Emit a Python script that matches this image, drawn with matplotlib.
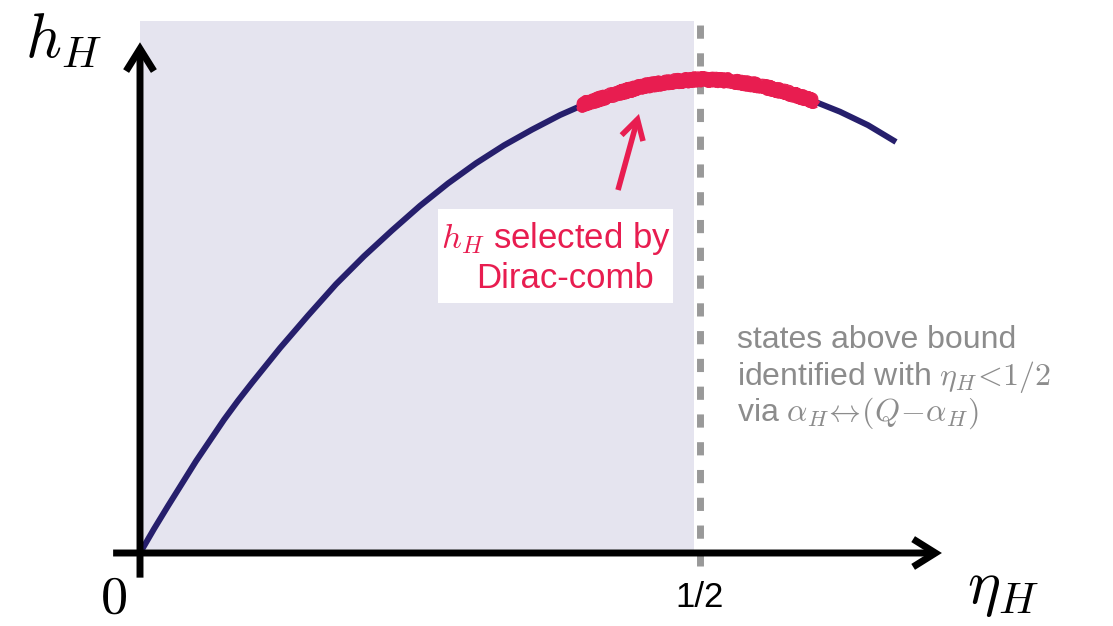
import numpy as np
import matplotlib
matplotlib.use("Agg")
import matplotlib.pyplot as plt
from matplotlib.patches import FancyArrowPatch, Rectangle

plt.rcParams["font.family"] = ["Liberation Sans", "DejaVu Sans"]
plt.rcParams["mathtext.fontset"] = "cm"
plt.rcParams["lines.scale_dashes"] = False

# curve h_H(eta_H)
eta = [0.000, 0.0125, 0.025, 0.0375, 0.050, 0.0625, 0.075, 0.0875, 0.100,
       0.125, 0.150, 0.175, 0.200, 0.225, 0.250, 0.275, 0.300, 0.325, 0.350,
       0.375, 0.400, 0.425, 0.450, 0.475, 0.500, 0.525, 0.550, 0.575, 0.600,
       0.625, 0.650, 0.675]
h = [0.000, 0.0215, 0.042, 0.062, 0.082, 0.1005, 0.119, 0.136, 0.152,
     0.183, 0.212, 0.240, 0.265, 0.288, 0.310, 0.330, 0.348, 0.364, 0.378,
     0.391, 0.402, 0.410, 0.417, 0.421, 0.423, 0.422, 0.418, 0.412, 0.404,
     0.394, 0.382, 0.367]

# part of the curve picked out by the Dirac comb
sel_eta = [0.393, 0.425, 0.450, 0.475, 0.500, 0.525, 0.550, 0.575, 0.603]
sel_h = [0.400, 0.410, 0.417, 0.421, 0.423, 0.422, 0.418, 0.412, 0.403]

bound = 0.5
shade_top = 0.475

navy = "#261f6c"
red = "#e81d50"
grey = "#8c8c8c"

fig = plt.figure(figsize=(11.13, 6.26), dpi=100)
ax = fig.add_axes([0, 0, 1, 1])
ax.set_xlim(-0.125, 0.86875)
ax.set_ylim(-0.06518, 0.49375)
ax.axis("off")

# shaded allowed region
ax.fill_between([0, bound - 0.005], 0, shade_top, color="#e5e4ef", lw=0, zorder=0)

# bound at eta = 1/2
ax.plot([bound, bound], [-0.012, shade_top], color="#999999", lw=5,
        dashes=(9.5, 10.5), solid_capstyle="butt", dash_capstyle="butt", zorder=1)

ax.plot(eta, h, color=navy, lw=4.3, solid_capstyle="butt",
        solid_joinstyle="round", zorder=2)

# rough "chalk" highlight
sel_line, = ax.plot(sel_eta, sel_h, color=red, lw=9, alpha=0.95,
                    solid_capstyle="butt", zorder=3)
sel_line.set_sketch_params(scale=2.0, length=3.0, randomness=3.0)
edge, = ax.plot(sel_eta, sel_h, color=red, lw=7, solid_capstyle="butt", zorder=3)
edge.set_sketch_params(scale=3.5, length=2.0, randomness=2.0)

# axes with arrow heads
ax_style = "->,head_length=1.6,head_width=1.0"
ax.add_patch(FancyArrowPatch((-0.024, 0), (0.716, 0), arrowstyle=ax_style,
                             mutation_scale=10, lw=5, color="black",
                             shrinkA=0, shrinkB=0, joinstyle="miter",
                             capstyle="butt", zorder=5))
ax.add_patch(FancyArrowPatch((0, -0.022), (0, 0.456), arrowstyle=ax_style,
                             mutation_scale=10, lw=5, color="black",
                             shrinkA=0, shrinkB=0, joinstyle="miter",
                             capstyle="butt", zorder=5))

ax.text(-0.1027, 0.4429, r"$h_H$", fontsize=45, ha="left", va="baseline")
ax.text(0.7384, -0.0446, r"$\eta_H$", fontsize=45, ha="left", va="baseline")
ax.text(-0.0241, -0.0536, r"$0$", fontsize=39, ha="center", va="baseline")
ax.text(bound, -0.0482, "1/2", fontsize=25, ha="center", va="baseline")

# callout
ax.add_patch(Rectangle((0.2661, 0.2232), 0.2098, 0.0839, facecolor="white",
                       edgecolor="none", zorder=4))
ax.text(0.3714, 0.2723, r"$h_H$ selected by", fontsize=25, color=red,
        ha="center", va="baseline", zorder=5)
ax.text(0.3795, 0.2366, "Dirac-comb", fontsize=25, color=red,
        ha="center", va="baseline", zorder=5)
ax.add_patch(FancyArrowPatch((0.4268, 0.3241), (0.4455, 0.3920),
                             arrowstyle="->,head_length=1.4,head_width=0.8",
                             mutation_scale=10, lw=4, color=red,
                             shrinkA=0, shrinkB=0, joinstyle="miter",
                             capstyle="butt", zorder=5))

# note on the right
note = ["states above bound",
        r"identified with $\eta_H\!<\!1/2$",
        r"via $\alpha_H\!\leftrightarrow\!(Q\!-\!\alpha_H)$"]
for line, y in zip(note, [0.183, 0.150, 0.118]):
    ax.text(0.533, y, line, fontsize=23, color=grey, ha="left", va="baseline")

fig.savefig("out.png", dpi=100)
